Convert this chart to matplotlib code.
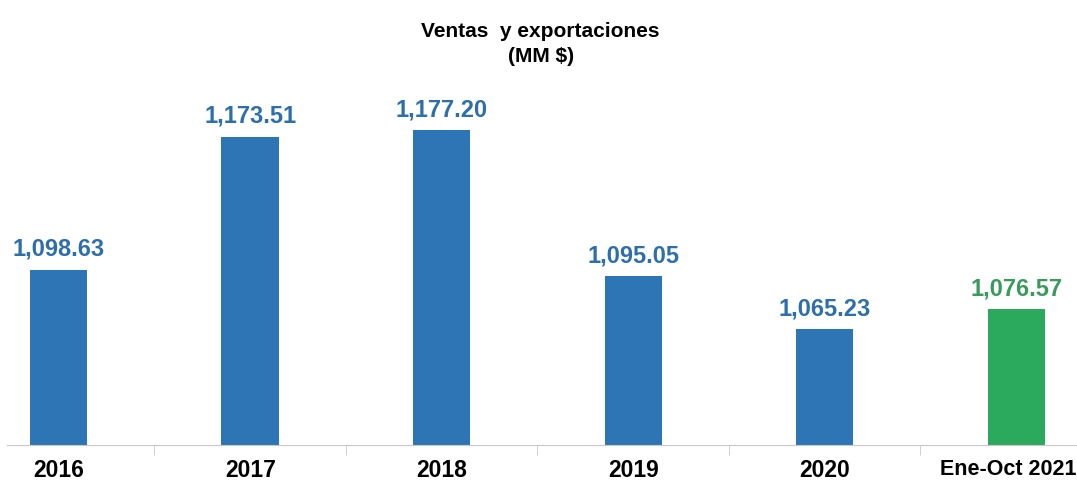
import matplotlib.pyplot as plt
import matplotlib.transforms as mtransforms
import numpy as np

categorias = ['2016', '2017', '2018', '2019', '2020', 'Ene-Oct 2021']
ventas = [1098.63, 1173.51, 1177.20, 1095.05, 1065.23, 1076.57]
etiquetas = ['1,098.63', '1,173.51', '1,177.20', '1,095.05', '1,065.23', '1,076.57']

azul = '#2E75B6'
verde = '#2BAA5E'
colores = [azul] * 5 + [verde]
col_texto = ['#2E6EAA'] * 5 + ['#3A9A5C']

plt.rcParams['font.family'] = ['Liberation Sans', 'DejaVu Sans']

fig = plt.figure(figsize=(10.77, 4.84), dpi=100)
ax = fig.add_axes([7 / 1077, 39 / 484, 1105 / 1077, 445 / 484])

x = np.arange(len(categorias))
ax.bar(x, ventas, width=0.3, color=colores)
ax.set_ylim(1000, 1250.4)
ax.set_xlim(-0.27, 5.5)

for i, (v, t) in enumerate(zip(ventas, etiquetas)):
    ax.text(i, v + 5, t, ha='center', va='bottom', fontsize=17,
            fontweight='bold', color=col_texto[i])

for s in ['top', 'right', 'left']:
    ax.spines[s].set_visible(False)
ax.spines['bottom'].set_color('#C8C8C8')
ax.set_yticks([])
ax.set_xticks(x)
ax.set_xticklabels(categorias, fontsize=16.5, fontweight='bold')
ax.tick_params(axis='x', length=0, pad=10)
ax.set_xticks(x[:-1] + 0.5, minor=True)
ax.tick_params(axis='x', which='minor', length=7, color='#C8C8C8')

# la ultima etiqueta casi no cabe
ult = ax.get_xticklabels()[-1]
ult.set_fontsize(15.5)
ult.set_transform(ult.get_transform() + mtransforms.ScaledTranslation(-6 / 72, 0, fig.dpi_scale_trans))

fig.text(0.502, 0.909, 'Ventas  y exportaciones\n(MM $)', ha='center', va='center',
         fontsize=15, fontweight='bold', linespacing=1.35)

fig.savefig('out.png', dpi=100)
